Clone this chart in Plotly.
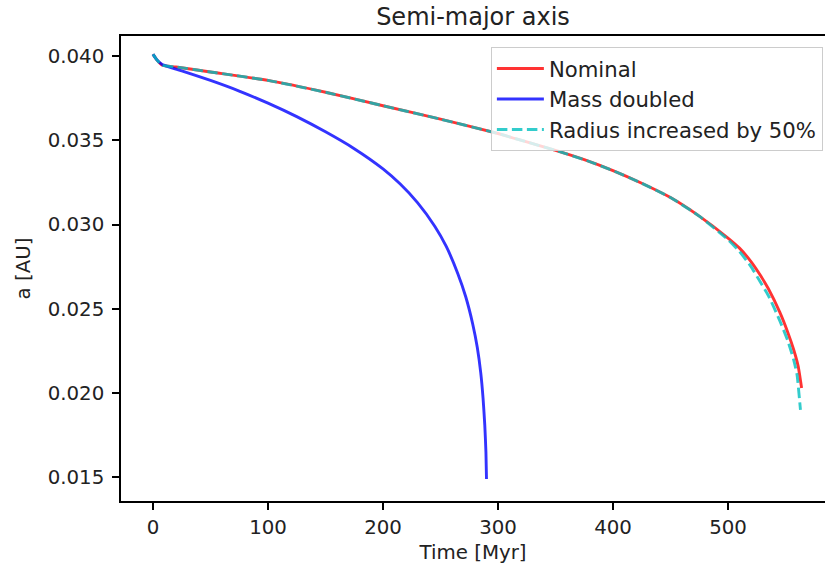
import plotly.graph_objects as go

# Nominal
t_nom = [0, 3, 8, 20, 50, 100, 150, 200, 250, 300, 325, 350, 375, 400, 425, 450, 475, 500, 510, 520, 528, 535,
         545, 552, 557, 561, 564]
a_nom = [0.0401, 0.0398, 0.03945, 0.03935, 0.03905, 0.03855, 0.03785, 0.03705, 0.03625, 0.0354, 0.0349, 0.0344,
         0.03385, 0.0332, 0.03245, 0.0316, 0.0305, 0.0292, 0.0286, 0.0278, 0.0270, 0.0262, 0.0248, 0.0236,
         0.0226, 0.0216, 0.0203]

# Mass doubled
t_mass = [0, 3, 8, 25, 50, 75, 100, 125, 150, 175, 200, 215, 230, 245, 255, 265, 272, 278, 282, 285, 287,
          288.5, 289.5, 290]
a_mass = [0.0401, 0.0398, 0.0395, 0.03912, 0.03855, 0.03792, 0.0372, 0.0364, 0.0355, 0.0345, 0.0333, 0.0324,
          0.0313, 0.0299, 0.0287, 0.0271, 0.0257, 0.0241, 0.0227, 0.0212, 0.0197, 0.0181, 0.0165, 0.0149]

# Radius increased by 50%
t_rad = [0, 3, 8, 20, 50, 100, 150, 200, 250, 300, 325, 350, 375, 400, 425, 450, 475, 500, 510, 520, 528, 535,
         545, 552, 557, 560, 563]
a_rad = [0.0401, 0.0398, 0.03945, 0.03935, 0.03905, 0.03855, 0.03785, 0.03705, 0.03625, 0.0354, 0.0349, 0.0344,
         0.03385, 0.0332, 0.03245, 0.0316, 0.0305, 0.0291, 0.0284, 0.0275, 0.0266, 0.0258, 0.0243, 0.0231,
         0.0220, 0.0211, 0.0190]

x_ticks = [0, 100, 200, 300, 400, 500]
y_ticks = [0.015, 0.020, 0.025, 0.030, 0.035, 0.040]
y_tick_text = ["0.015", "0.020", "0.025", "0.030", "0.035", "0.040"]

FONT = "DejaVu Sans"
TXT = "#222222"

fig = go.Figure()
fig.add_trace(go.Scatter(x=t_nom, y=a_nom, mode="lines", name="Nominal",
                         line=dict(color="rgba(255,0,0,0.8)", width=2.9, shape="spline", smoothing=0.5)))
fig.add_trace(go.Scatter(x=t_mass, y=a_mass, mode="lines", name="Mass doubled",
                         line=dict(color="rgba(0,0,255,0.8)", width=2.9, shape="spline", smoothing=0.5)))
fig.add_trace(go.Scatter(x=t_rad, y=a_rad, mode="lines", name="Radius increased by 50%",
                         line=dict(color="rgba(0,191,191,0.8)", width=2.9, dash="10.5px,4.5px",
                                   shape="spline", smoothing=0.5)))

axis_common = dict(showgrid=False, zeroline=False, showline=True, linecolor="#000000", linewidth=1.5,
                   ticks="outside", ticklen=7, tickwidth=1.5, tickcolor="#000000",
                   tickfont=dict(family=FONT, size=19.8, color=TXT))

fig.update_layout(
    width=825, height=571,
    margin=dict(l=121, r=0, t=36, b=70),
    paper_bgcolor="white", plot_bgcolor="white",
    font=dict(family=FONT, size=19.8, color=TXT),
    title=dict(text="Semi-major axis", x=0.5, xref="paper", xanchor="center",
               y=1 - 17 / 571, yref="container", yanchor="middle",
               font=dict(family=FONT, size=24, color=TXT)),
    xaxis=dict(range=[-27.83, 584.35], tickvals=x_ticks, mirror=True,
               title=dict(text="Time [Myr]", standoff=8, font=dict(family=FONT, size=19.8, color=TXT)),
               **axis_common),
    yaxis=dict(range=[0.013594, 0.041187], tickvals=y_ticks, ticktext=y_tick_text,
               ticklabelstandoff=4,
               title=dict(text="a [AU]", standoff=12, font=dict(family=FONT, size=19.8, color=TXT)),
               **axis_common),
    legend=dict(x=0.997, y=0.976, xanchor="right", yanchor="top",
                bgcolor="rgba(255,255,255,0.8)", bordercolor="#cccccc", borderwidth=1,
                itemwidth=47,
                font=dict(family=FONT, size=21.2, color=TXT), tracegroupgap=0),
    showlegend=True,
)

fig.write_html("out.html")
